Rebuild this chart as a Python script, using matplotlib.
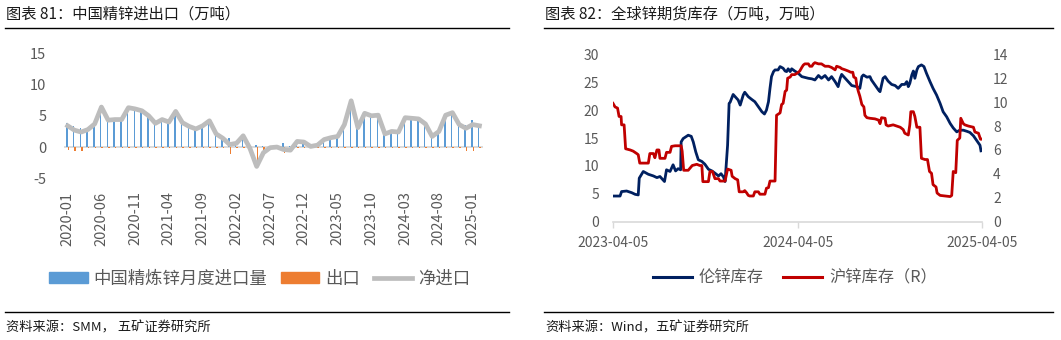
import matplotlib
matplotlib.use("Agg")
import matplotlib.pyplot as plt
from matplotlib.lines import Line2D
from matplotlib.patches import Patch
import pandas as pd
import numpy as np

plt.rcParams['font.family'] = ['Noto Sans CJK SC', 'DejaVu Sans']
plt.rcParams['axes.unicode_minus'] = False

# ---------------- Left chart data (万吨) ----------------
months = pd.date_range("2020-01-01", periods=62, freq="MS").strftime("%Y-%m").tolist()
imports = [3.8, 3.3, 3.0, 3.0, 3.9, 6.6, 4.5, 4.6, 4.6, 6.5, 6.3, 6.0, 5.2, 4.0, 4.6, 4.2,
           5.9, 4.1, 3.5, 3.1, 3.6, 4.4, 2.3, 1.6, 1.5, 0.8, 2.0, 0.1, 0.3, 0.1, 0.2, 0.2,
           0.6, 0.1, 1.1, 1.0, 0.3, 0.5, 1.4, 1.7, 1.9, 3.8, 7.6, 3.3, 5.6, 5.2, 5.3, 2.3,
           2.7, 2.6, 4.9, 4.8, 4.7, 3.9, 1.9, 2.7, 5.3, 5.7, 3.8, 3.6, 4.3, 3.6]
exports = [0.4, 0.6, 0.6, 0.2, 0.2, 0.2, 0.2, 0.2, 0.2, 0.2, 0.2, 0.2, 0.2, 0.2, 0.2, 0.2,
           0.2, 0.2, 0.2, 0.2, 0.2, 0.2, 0.2, 0.2, 1.1, 0.2, 0.2, 0.3, 3.4, 1.0, 0.3, 0.2,
           1.0, 0.6, 0.2, 0.2, 0.2, 0.2, 0.2, 0.2, 0.2, 0.2, 0.2, 0.2, 0.2, 0.2, 0.2, 0.2,
           0.2, 0.2, 0.2, 0.2, 0.2, 0.2, 0.2, 0.2, 0.2, 0.2, 0.2, 0.6, 0.7, 0.2]
net_imports = [3.4, 2.7, 2.4, 2.8, 3.7, 6.4, 4.3, 4.4, 4.4, 6.3, 6.1, 5.8, 5.0, 3.8, 4.4, 4.0,
               5.7, 3.9, 3.3, 2.9, 3.4, 4.2, 2.1, 1.4, 0.4, 0.6, 1.8, -0.2, -3.1, -0.9, -0.1, 0.0,
               -0.4, -0.5, 0.9, 0.8, 0.1, 0.3, 1.2, 1.5, 1.7, 3.6, 7.4, 3.1, 5.4, 5.0, 5.1, 2.1,
               2.5, 2.4, 4.7, 4.6, 4.5, 3.7, 1.7, 2.5, 5.1, 5.5, 3.6, 3.0, 3.6, 3.4]

# ---------------- Right chart data (万吨) ----------------
lme_dates = ["2023-04-05", "2023-04-19", "2023-04-22", "2023-05-02", "2023-05-12", "2023-05-19", "2023-05-25",
             "2023-05-27", "2023-06-04", "2023-06-14", "2023-06-24", "2023-07-01", "2023-07-07", "2023-07-16",
             "2023-07-20", "2023-07-27", "2023-08-02", "2023-08-07", "2023-08-12", "2023-08-17", "2023-08-18",
             "2023-08-22", "2023-09-01", "2023-09-07", "2023-09-11", "2023-09-16", "2023-09-21", "2023-09-28",
             "2023-10-04", "2023-10-11", "2023-10-18", "2023-10-24", "2023-10-31", "2023-11-05", "2023-11-10",
             "2023-11-13", "2023-11-18", "2023-11-21", "2023-11-23", "2023-11-29", "2023-12-03", "2023-12-09",
             "2023-12-13", "2023-12-19", "2023-12-22", "2023-12-29", "2024-01-05", "2024-01-11", "2024-01-18",
             "2024-01-25", "2024-01-30", "2024-02-03", "2024-02-07", "2024-02-10", "2024-02-13", "2024-02-17",
             "2024-02-20", "2024-02-26", "2024-03-01", "2024-03-07", "2024-03-11", "2024-03-14", "2024-03-17",
             "2024-03-21", "2024-03-24", "2024-03-30", "2024-04-06", "2024-04-13", "2024-04-26", "2024-05-03",
             "2024-05-09", "2024-05-16", "2024-05-22", "2024-05-29", "2024-06-05", "2024-06-11", "2024-06-18",
             "2024-06-24", "2024-06-28", "2024-07-01", "2024-07-08", "2024-07-14", "2024-07-21", "2024-07-31",
             "2024-08-06", "2024-08-10", "2024-08-13", "2024-08-20", "2024-08-26", "2024-08-29", "2024-09-05",
             "2024-09-12", "2024-09-15", "2024-09-18", "2024-09-21", "2024-09-25", "2024-10-01", "2024-10-08",
             "2024-10-15", "2024-10-21", "2024-10-28", "2024-11-03", "2024-11-07", "2024-11-10", "2024-11-13",
             "2024-11-17", "2024-11-20", "2024-11-23", "2024-11-27", "2024-11-30", "2024-12-06", "2024-12-11",
             "2024-12-16", "2024-12-23", "2024-12-29", "2025-01-05", "2025-01-12", "2025-01-18", "2025-01-25",
             "2025-02-01", "2025-02-07", "2025-02-14", "2025-02-20", "2025-02-27", "2025-03-06", "2025-03-12",
             "2025-03-19", "2025-03-25", "2025-04-01", "2025-04-03"]
lme_stock = [4.6, 4.6, 5.4, 5.5, 5.2, 4.9, 4.8,
             7.8, 9.0, 8.5, 8.2, 7.9, 8.1, 7.2,
             9.3, 9.0, 10.2, 9.1, 9.5, 9.3, 14.3,
             14.9, 15.5, 15.3, 14.3, 12.5, 11.1, 10.8,
             10.3, 9.4, 9.1, 8.7, 8.2, 8.6, 8.0,
             7.2, 13.7, 21.2, 21.4, 22.8, 22.4, 21.8,
             20.9, 22.7, 23.2, 22.4, 21.9, 21.5, 20.6,
             19.7, 19.3, 20.0, 21.5, 23.9, 26.0, 26.9,
             27.2, 27.2, 27.8, 27.5, 27.0, 26.9, 27.4,
             26.9, 27.4, 27.0, 26.6, 26.0, 25.7, 25.6,
             25.4, 26.2, 25.7, 26.2, 25.4, 26.0, 25.1,
             24.2, 25.7, 26.4, 25.7, 25.1, 24.4, 24.2,
             23.9, 26.0, 26.3, 25.9, 26.0, 25.4, 24.5,
             23.6, 23.3, 24.5, 25.7, 26.0, 25.2, 24.6,
             24.4, 23.9, 24.6, 24.6, 25.1, 24.2, 24.8,
             26.3, 27.0, 25.7, 27.2, 27.8, 28.1, 27.8,
             26.6, 25.1, 23.9, 22.7, 21.2, 19.7, 18.8,
             17.6, 16.8, 16.1, 16.4, 16.4, 16.2, 16.0,
             15.4, 14.6, 13.7, 12.7]

shfe_dates = ["2023-04-05", "2023-04-09", "2023-04-14", "2023-04-17", "2023-04-21", "2023-04-22", "2023-04-27",
              "2023-04-30", "2023-05-09", "2023-05-15", "2023-05-22", "2023-05-25", "2023-05-28", "2023-06-14",
              "2023-06-17", "2023-06-24", "2023-06-27", "2023-07-01", "2023-07-05", "2023-07-07", "2023-07-17",
              "2023-07-20", "2023-07-27", "2023-07-30", "2023-08-06", "2023-08-18", "2023-08-20", "2023-08-23",
              "2023-09-01", "2023-09-05", "2023-09-09", "2023-09-18", "2023-09-24", "2023-09-28", "2023-09-30",
              "2023-10-11", "2023-10-14", "2023-10-19", "2023-10-24", "2023-10-31", "2023-11-03", "2023-11-13",
              "2023-11-18", "2023-11-25", "2023-11-27", "2023-12-03", "2023-12-08", "2023-12-11", "2023-12-19",
              "2023-12-22", "2023-12-26", "2023-12-29", "2024-01-01", "2024-01-08", "2024-01-11", "2024-01-18",
              "2024-01-21", "2024-01-31", "2024-02-03", "2024-02-07", "2024-02-10", "2024-02-20", "2024-02-23",
              "2024-03-01", "2024-03-04", "2024-03-07", "2024-03-11", "2024-03-14", "2024-03-16", "2024-03-21",
              "2024-03-24", "2024-03-30", "2024-04-03", "2024-04-09", "2024-04-13", "2024-04-16", "2024-04-19",
              "2024-04-26", "2024-04-29", "2024-05-03", "2024-05-06", "2024-05-09", "2024-05-16", "2024-05-22",
              "2024-05-29", "2024-06-05", "2024-06-11", "2024-06-18", "2024-06-21", "2024-06-28", "2024-07-01",
              "2024-07-08", "2024-07-14", "2024-07-19", "2024-07-23", "2024-07-25", "2024-07-29", "2024-07-31",
              "2024-08-03", "2024-08-06", "2024-08-10", "2024-08-14", "2024-08-16", "2024-08-20", "2024-08-26",
              "2024-09-05", "2024-09-12", "2024-09-15", "2024-09-18", "2024-09-25", "2024-09-27", "2024-10-01",
              "2024-10-11", "2024-10-18", "2024-10-25", "2024-10-31", "2024-11-03", "2024-11-10", "2024-11-13",
              "2024-11-15", "2024-11-20", "2024-11-23", "2024-11-27", "2024-12-03", "2024-12-06", "2024-12-13",
              "2024-12-18", "2024-12-22", "2024-12-26", "2024-12-29", "2025-01-04", "2025-01-06", "2025-01-12",
              "2025-02-01", "2025-02-04", "2025-02-07", "2025-02-12", "2025-02-15", "2025-02-20", "2025-02-22",
              "2025-02-27", "2025-03-02", "2025-03-09", "2025-03-19", "2025-03-22", "2025-03-29", "2025-04-02",
              "2025-04-03"]
shfe_stock = [9.9, 9.6, 9.5, 8.8, 8.8, 8.1, 8.1,
              6.1, 6.0, 5.9, 5.7, 5.6, 4.9, 4.9,
              5.7, 5.7, 5.35, 6.0, 6.0, 5.3, 5.3,
              5.8, 5.8, 6.3, 6.35, 6.35, 5.9, 4.3,
              4.3, 4.5, 4.7, 4.8, 4.7, 4.7, 3.35,
              3.35, 4.2, 4.2, 3.6, 3.6, 3.4, 3.4,
              4.4, 4.3, 3.8, 3.6, 3.5, 2.5, 2.5,
              2.6, 2.4, 2.2, 2.15, 2.15, 2.5, 2.5,
              2.3, 2.3, 2.8, 2.85, 3.4, 3.4, 8.9,
              9.1, 9.8, 9.9, 10.9, 11.0, 12.0, 12.1,
              12.3, 12.3, 12.4, 12.6, 12.9, 13.1, 13.2,
              13.2, 13.0, 13.0, 13.2, 13.3, 13.2, 13.2,
              13.0, 13.0, 12.9, 12.7, 13.0, 12.9, 12.8,
              12.7, 12.6, 12.5, 12.5, 12.1, 12.0, 11.4,
              10.9, 10.5, 9.8, 9.6, 8.9, 8.7, 8.65,
              8.6, 8.5, 8.2, 8.7, 8.65, 8.1, 8.0,
              8.1, 8.0, 7.9, 7.7, 7.4, 7.25, 8.1,
              9.2, 9.2, 8.8, 7.9, 7.9, 5.3, 5.2,
              5.2, 4.2, 4.05, 3.1, 2.9, 2.4, 2.2,
              2.1, 2.2, 4.2, 4.1, 6.8, 7.0, 8.65,
              8.2, 8.1, 8.0, 7.9, 7.5, 7.4, 6.9,
              6.9]

right_ticks = ["2023-04-05", "2024-04-05", "2025-04-05"]

# ---------------- Styling constants ----------------
W, H = 1061, 340
TICK_COLOR = "#595959"
AXIS_COLOR = "#D9D9D9"

fig = plt.figure(figsize=(W / 100, H / 100), dpi=100)

def fx(px):
    return px / W

def fy(py):
    return 1 - py / H

# Header / footer rules and texts
for x0, x1 in [(5, 509), (544, 1053)]:
    fig.add_artist(Line2D([fx(x0), fx(x1)], [fy(28.3), fy(28.3)], color="black", lw=1.0,
                          transform=fig.transFigure))
    fig.add_artist(Line2D([fx(x0), fx(x1)], [fy(311.7), fy(311.7)], color="black", lw=1.0,
                          transform=fig.transFigure))

fig.text(fx(6), fy(14), "图表 81：中国精锌进出口（万吨）", fontsize=11, color="#1a1a1a",
         ha="left", va="center")
fig.text(fx(545), fy(14), "图表 82：全球锌期货库存（万吨，万吨）", fontsize=11, color="#1a1a1a",
         ha="left", va="center")
fig.text(fx(6), fy(328), "资料来源：SMM， 五矿证券研究所", fontsize=9.5, color="#1a1a1a",
         ha="left", va="center")
fig.text(fx(545), fy(328), "资料来源：Wind，五矿证券研究所", fontsize=9.5, color="#1a1a1a",
         ha="left", va="center")

# ---------------- Left chart ----------------
axL = fig.add_axes([fx(64.3), fy(178.3), fx(482.8 - 64.3), (178.3 - 53.3) / H])
x = np.arange(len(months))
bw = 0.22
axL.bar(x - bw / 2, imports, width=bw, color="#5B9BD5", zorder=2)
axL.bar(x + bw / 2, [-v for v in exports], width=bw, color="#ED7D31", zorder=2)
axL.axhline(0, color=AXIS_COLOR, lw=1.3, zorder=1)
axL.plot(x, net_imports, color="#BDBDBD", lw=3.4, zorder=3, solid_joinstyle="round")
axL.set_xlim(-0.5, len(months) - 0.5)
axL.set_ylim(-5, 15)
axL.set_yticks([-5, 0, 5, 10, 15])
axL.set_xticks(x[::5])
axL.set_xticklabels(months[::5], rotation=90)
axL.tick_params(axis="x", length=0, pad=9.5, labelsize=10.5, labelcolor=TICK_COLOR)
axL.tick_params(axis="y", length=0, pad=13, labelsize=10.5, labelcolor=TICK_COLOR)
for s in axL.spines.values():
    s.set_visible(False)

handlesL = [Patch(color="#5B9BD5"), Patch(color="#ED7D31"),
            Line2D([], [], color="#BDBDBD", lw=3.4)]
fig.legend(handlesL, ["中国精炼锌月度进口量", "出口", "净进口"], loc="center",
           bbox_to_anchor=(fx(260), fy(279)), ncol=3, frameon=False, fontsize=12.5,
           handlelength=2.2, handleheight=0.6, handletextpad=0.35, columnspacing=0.8,
           labelcolor=TICK_COLOR)

# ---------------- Right chart ----------------
axR = fig.add_axes([fx(613), fy(221.7), fx(982 - 613), (221.7 - 54.3) / H])
axR2 = axR.twinx()
lme_x = pd.to_datetime(lme_dates)
shfe_x = pd.to_datetime(shfe_dates)
axR.plot(lme_x, lme_stock, color="#002060", lw=2.0, zorder=3)
axR2.plot(shfe_x, shfe_stock, color="#C00000", lw=2.0, zorder=3)
axR.set_ylim(0, 30)
axR2.set_ylim(0, 14)
axR.set_yticks([0, 5, 10, 15, 20, 25, 30])
axR2.set_yticks([0, 2, 4, 6, 8, 10, 12, 14])
tick_dates = pd.to_datetime(right_ticks)
axR.set_xlim(tick_dates[0], tick_dates[-1])
axR.set_xticks(tick_dates)
axR.set_xticklabels(right_ticks)
axR.tick_params(axis="x", length=4, width=1, color=AXIS_COLOR, direction="out", pad=6,
                labelsize=10, labelcolor=TICK_COLOR)
axR.tick_params(axis="y", length=0, pad=10, labelsize=10, labelcolor=TICK_COLOR)
axR2.tick_params(axis="y", length=0, pad=8, labelsize=10, labelcolor=TICK_COLOR)
for ax in (axR, axR2):
    for name, s in ax.spines.items():
        s.set_visible(False)
axR.spines["bottom"].set_visible(True)
axR.spines["bottom"].set_color(AXIS_COLOR)
axR.spines["bottom"].set_linewidth(1.2)

handlesR = [Line2D([], [], color="#002060", lw=2.2), Line2D([], [], color="#C00000", lw=2.2)]
fig.legend(handlesR, ["伦锌库存", "沪锌库存（R）"], loc="center",
           bbox_to_anchor=(fx(795), fy(278)), ncol=2, frameon=False, fontsize=11.7,
           handlelength=2.4, handletextpad=0.4, columnspacing=1.2, labelcolor=TICK_COLOR)

fig.savefig("out.png", dpi=100)
